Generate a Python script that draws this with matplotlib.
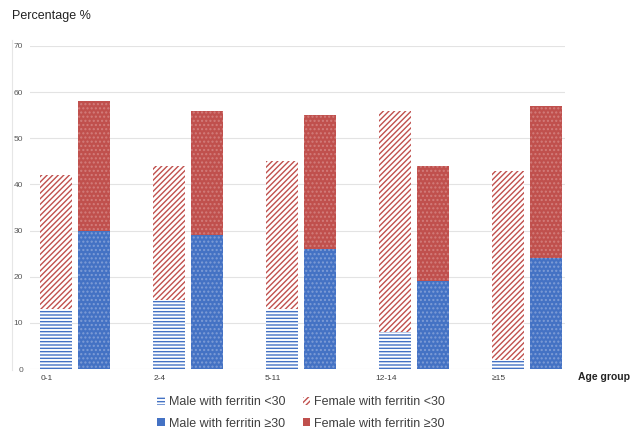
import matplotlib
matplotlib.use("Agg")
import matplotlib.pyplot as plt
from matplotlib.patches import Patch
from matplotlib.lines import Line2D
import numpy as np

categories = ["0-1", "2-4", "5-11", "12-14", "≥15"]
male_lt30 = [13, 15, 13, 8, 2]
female_lt30 = [29, 29, 32, 48, 41]
male_ge30 = [30, 29, 26, 19, 24]
female_ge30 = [28, 27, 29, 25, 33]
yticks = [0, 10, 20, 30, 40, 50, 60, 70]

BLUE = "#4472C4"
RED = "#C0504D"

plt.rcParams["hatch.linewidth"] = 1.0
plt.rcParams["font.family"] = ["Liberation Sans", "DejaVu Sans"]

fig = plt.figure(figsize=(6.4, 4.45), dpi=100)
ax = fig.add_axes([30/640, 1-369/445, 535/640, (369-46)/445])

x = np.arange(len(categories))
w = 0.283
off = 0.168

ax.bar(x - off, male_lt30, w, facecolor="white", edgecolor=BLUE, linewidth=0, hatch="-----", zorder=3)
ax.bar(x - off, female_lt30, w, bottom=male_lt30, facecolor="white", edgecolor=RED, linewidth=0, hatch="//////", zorder=3)
ax.bar(x + off, male_ge30, w, facecolor=BLUE, edgecolor="#7f9dd6", linewidth=0, hatch="....", zorder=3)
ax.bar(x + off, female_ge30, w, bottom=male_ge30, facecolor=RED, edgecolor="#d27d7b", linewidth=0, hatch="....", zorder=3)

ax.set_ylim(0, 70)
ax.set_xlim(-0.398, -0.398 + 535/113)
ax.set_yticks(yticks)
ax.set_yticklabels([str(v) for v in yticks], fontsize=6, color="#595959")
ax.set_xticks(x - 0.25)
ax.set_xticklabels(categories, fontsize=6, color="#404040")
ax.tick_params(axis="both", length=0)
ax.tick_params(axis="y", pad=5)
ax.tick_params(axis="x", pad=4)
ax.grid(axis="y", color="#e3e3e3", linewidth=0.8, zorder=0)
for s in ax.spines.values():
    s.set_visible(False)

fig.add_artist(Line2D([12/640, 12/640], [1-40/445, 1-370/445], color="#e6e6e6", linewidth=0.8))

fig.text(12/640, 1-16/445, "Percentage %", fontsize=9, color="#222222", va="center", ha="left")
fig.text(578/640, 1-377/445, "Age group", fontsize=7.5, color="#222222", va="center", ha="left", fontweight="bold")

handles = [
    Patch(facecolor="white", edgecolor=BLUE, linewidth=0, hatch="-----"),
    Patch(facecolor=BLUE, edgecolor="#7f9dd6", linewidth=0),
    Patch(facecolor="white", edgecolor=RED, linewidth=0, hatch="//////"),
    Patch(facecolor=RED, edgecolor="#d27d7b", linewidth=0),
]
labels = ["Male with ferritin <30", "Male with ferritin ≥30",
          "Female with ferritin <30", "Female with ferritin ≥30"]
fig.legend(handles, labels, ncol=2, loc="center", bbox_to_anchor=(301/640, 1-413/445),
           frameon=False, fontsize=9, handlelength=0.6, handleheight=0.6,
           handletextpad=0.3, columnspacing=1.4, labelspacing=0.75, labelcolor="#404040")

fig.savefig("out.png", dpi=100)
